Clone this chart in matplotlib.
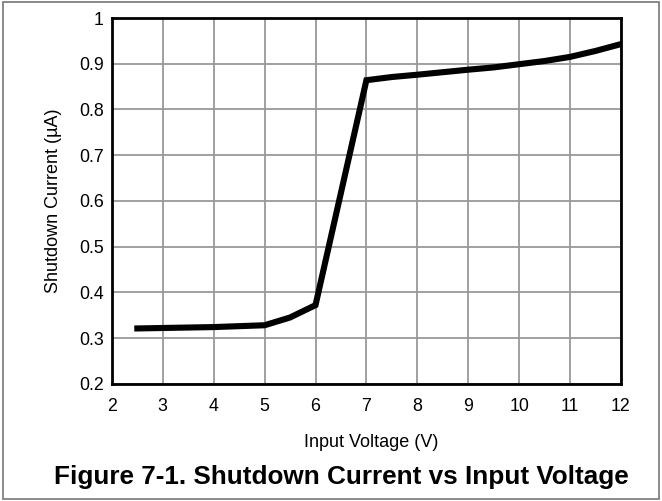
import matplotlib
matplotlib.use("Agg")
from matplotlib import pyplot as plt
from matplotlib.patches import Rectangle

plt.rcParams['font.family'] = ['Liberation Sans', 'DejaVu Sans']

# input voltage (V) vs shutdown current (uA)
vin = [2.5, 3, 4, 4.5, 5, 5.5, 6, 6.5, 7, 7.5, 8, 9, 9.5, 10, 10.5, 11, 11.5, 12]
i_sd = [0.321, 0.322, 0.324, 0.326, 0.328, 0.345, 0.372, 0.618, 0.864, 0.871, 0.876, 0.887, 0.892, 0.899, 0.906, 0.915, 0.928, 0.943]

xticks = [2, 3, 4, 5, 6, 7, 8, 9, 10, 11, 12]
yticks = [0.2, 0.3, 0.4, 0.5, 0.6, 0.7, 0.8, 0.9, 1]
ytick_labels = ['0.2', '0.3', '0.4', '0.5', '0.6', '0.7', '0.8', '0.9', '1']

fig = plt.figure(figsize=(6.62, 5.01), dpi=100)
ax = fig.add_axes([0.169, 0.234, 0.769, 0.730])

ax.plot(vin, i_sd, color='black', lw=4.4, solid_joinstyle='miter', zorder=3)

ax.set_xlim(2, 12)
ax.set_ylim(0.2, 1)
ax.set_xticks(xticks)
ax.set_yticks(yticks)
ax.set_yticklabels(ytick_labels)
ax.grid(True, color='#999999', lw=1.3)
ax.tick_params(length=0, labelsize=12.8)
ax.tick_params(axis='x', pad=10)
ax.tick_params(axis='y', pad=6)
for s in ax.spines.values():
    s.set_linewidth(2)
    s.set_color('black')

ax.set_xlabel('Input Voltage (V)', fontsize=13, labelpad=14, x=0.509)
ax.set_ylabel('Shutdown Current (µA)', fontsize=13, labelpad=12)

fig.text(0.515, 0.048, 'Figure 7-1. Shutdown Current vs Input Voltage',
         ha='center', va='center', fontsize=18.8, fontweight='bold')

fig.patches.append(Rectangle((0.004, 0.004), 0.992, 0.992, transform=fig.transFigure,
                             fill=False, edgecolor='#777777', lw=1.2))

fig.savefig('out.png', dpi=100)
